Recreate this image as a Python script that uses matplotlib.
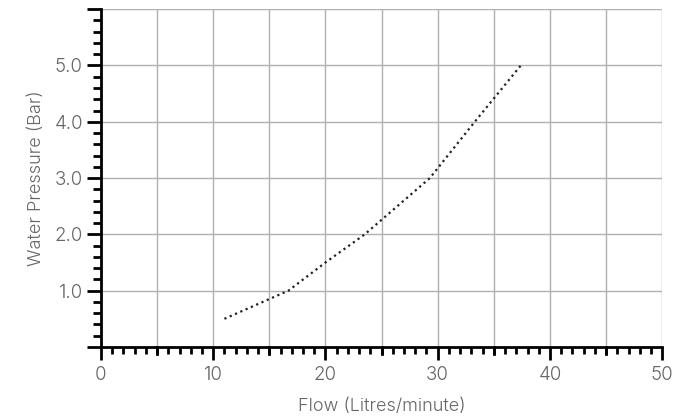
import numpy as np
import matplotlib.pyplot as plt
from matplotlib.ticker import MultipleLocator, FixedLocator

# Flow vs pressure curve
flow = [11.0, 16.7, 20.0, 23.5, 29.3, 33.3, 37.4]
pressure = [0.5, 1.0, 1.5, 2.0, 3.0, 4.0, 5.0]

x_major = [0, 10, 20, 30, 40, 50]
y_major = [1.0, 2.0, 3.0, 4.0, 5.0]
y_labels = ['1.0', '2.0', '3.0', '4.0', '5.0']

plt.rcParams['font.family'] = ['Inter', 'DejaVu Sans']
text_col = '#666666'

fig = plt.figure(figsize=(6.82, 4.18), dpi=100)
ax = fig.add_axes([0.148, 0.170, 0.823, 0.808])

ax.plot(flow, pressure, color='#222222', linestyle=(0, (1, 1.6)), linewidth=1.6)

ax.set_xlim(0, 50)
ax.set_ylim(0, 6)

# Grid every 5 on x, every 1 on y
for gx in range(5, 51, 5):
    ax.axvline(gx, color='#b0b0b0', linewidth=1.0, zorder=0)
for gy in range(1, 7):
    ax.axhline(gy, color='#b0b0b0', linewidth=1.0, zorder=0)

# Spines
for s in ['top', 'right']:
    ax.spines[s].set_visible(False)
for s in ['left', 'bottom']:
    ax.spines[s].set_linewidth(2.0)
    ax.spines[s].set_color('black')

# X ticks: labelled every 10, medium every 5, minor every 1
ax.xaxis.set_major_locator(FixedLocator(x_major))
ax.set_xticklabels([str(v) for v in x_major])
ax.xaxis.set_minor_locator(MultipleLocator(1))
ax.tick_params(axis='x', which='major', direction='out', length=9, width=2,
               labelsize=13.5, labelcolor=text_col, pad=5)
ax.tick_params(axis='x', which='minor', direction='out', length=5, width=2)
for fx in range(5, 50, 10):
    ax.plot([fx, fx], [0, -0.13], color='black', linewidth=2, clip_on=False, zorder=5)

# Y ticks: labelled every 1.0, minor every 0.2
ax.yaxis.set_major_locator(FixedLocator([0, 1, 2, 3, 4, 5, 6]))
ax.set_yticklabels([''] + y_labels + [''])
ax.yaxis.set_minor_locator(MultipleLocator(0.2))
ax.tick_params(axis='y', which='major', direction='out', length=10, width=2,
               labelsize=13.5, labelcolor=text_col, pad=3)
ax.tick_params(axis='y', which='minor', direction='out', length=6, width=2)

for lbl in ax.get_xticklabels() + ax.get_yticklabels():
    lbl.set_fontweight(300)

ax.set_xlabel('Flow (Litres/minute)', fontsize=13, fontweight=300,
              color=text_col, labelpad=10)
ax.set_ylabel('Water Pressure (Bar)', fontsize=13, fontweight=300,
              color=text_col, labelpad=7)

fig.savefig('out.png', dpi=100)
